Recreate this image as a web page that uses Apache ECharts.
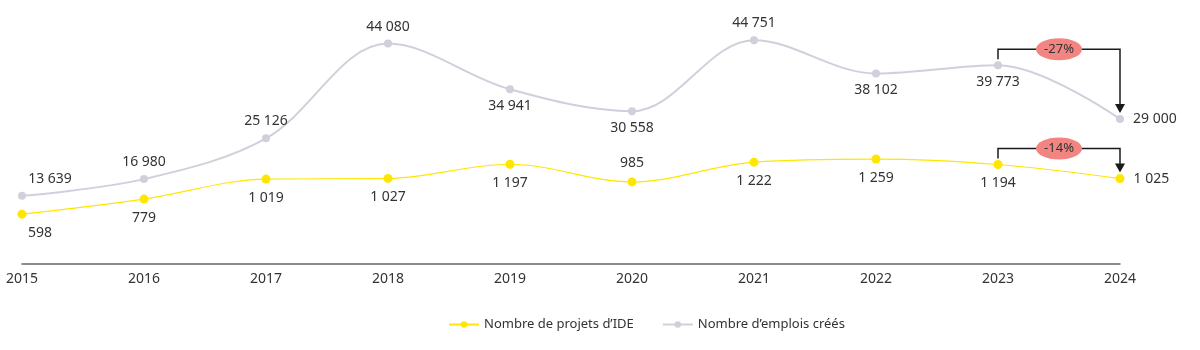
<!DOCTYPE html>
<html>
<head>
<meta charset="utf-8">
<script src="https://cdn.jsdelivr.net/npm/echarts@6/dist/echarts.min.js"></script>
<style>
  html, body { margin: 0; padding: 0; background: #fff; }
  #chart { width: 1200px; height: 350px; }
</style>
</head>
<body>
<div id="chart"></div>
<script>
// données
const years = ['2015', '2016', '2017', '2018', '2019', '2020', '2021', '2022', '2023', '2024'];
const projets = [598, 779, 1019, 1027, 1197, 985, 1222, 1259, 1194, 1025];
const emplois = [13639, 16980, 25126, 44080, 34941, 30558, 44751, 38102, 39773, 29000];
// position des étiquettes
const projetsPos = ['bottom', 'bottom', 'bottom', 'bottom', 'bottom', 'top', 'bottom', 'bottom', 'bottom', 'right'];
const emploisPos = ['top', 'top', 'top', 'top', 'bottom', 'bottom', 'top', 'bottom', 'bottom', 'right'];
const variations = ['-27%', '-14%'];

const fmt = (v) => String(v).replace(/\B(?=(\d{3})+(?!\d))/g, ' ');
const txt = '#333';
const font = 'Noto Sans';

function items(values, pos) {
  return values.map((v, i) => {
    const label = { position: pos[i] };
    if (i === 0) label.offset = pos[i] === 'top' ? [28, 0] : [18, 0];
    if (pos[i] === 'right') label.distance = 9;
    return { value: v, label };
  });
}

const chart = echarts.init(document.getElementById('chart'));
chart.setOption({
  animation: false,
  textStyle: { fontFamily: font },
  grid: { left: 22, right: 80, top: 14, bottom: 86 },
  legend: {
    bottom: 14,
    left: 443,
    itemWidth: 30,
    itemHeight: 8,
    itemGap: 28,
    textStyle: { color: txt, fontSize: 13, fontFamily: font },
    data: ['Nombre de projets d\u2019IDE', 'Nombre d\u2019emplois créés']
  },
  xAxis: {
    type: 'category',
    data: years,
    boundaryGap: false,
    axisLine: { lineStyle: { color: '#666', width: 1.5 } },
    axisTick: { show: false },
    axisLabel: { color: txt, fontSize: 14, margin: 8, fontFamily: font }
  },
  yAxis: [
    { type: 'value', min: 0, max: 3000, show: false, splitLine: { show: false } },
    { type: 'value', min: 0, max: 50000, show: false, splitLine: { show: false } }
  ],
  series: [
    {
      name: 'Nombre de projets d\u2019IDE',
      type: 'line',
      yAxisIndex: 0,
      smooth: 0.35,
      symbol: 'circle',
      symbolSize: 9,
      itemStyle: { color: '#ffe600' },
      lineStyle: { color: '#ffe600', width: 1.2 },
      label: { show: true, color: txt, fontSize: 14, distance: 7, fontFamily: font, formatter: (p) => fmt(p.value) },
      data: items(projets, projetsPos)
    },
    {
      name: 'Nombre d\u2019emplois créés',
      type: 'line',
      yAxisIndex: 1,
      smooth: 0.35,
      symbol: 'circle',
      symbolSize: 8,
      itemStyle: { color: '#d0d0dc' },
      lineStyle: { color: '#d0d0dc', width: 2 },
      label: { show: true, color: txt, fontSize: 14, distance: 6, fontFamily: font, formatter: (p) => fmt(p.value) },
      data: items(emplois, emploisPos)
    }
  ]
});

// flèches de variation 2023 -> 2024
function bracket(seriesIdx, values, text) {
  const n = values.length;
  const a = chart.convertToPixel({ seriesIndex: seriesIdx }, [n - 2, values[n - 2]]);
  const b = chart.convertToPixel({ seriesIndex: seriesIdx }, [n - 1, values[n - 1]]);
  const y = Math.min(a[1], b[1]) - 16;
  const mid = (a[0] + b[0]) / 2;
  return [
    {
      type: 'polyline',
      shape: { points: [[a[0], a[1] - 6], [a[0], y], [b[0], y], [b[0], b[1] - 14]] },
      style: { stroke: '#1a1a1a', lineWidth: 1.5, fill: null }
    },
    {
      type: 'polygon',
      shape: { points: [[b[0] - 5, b[1] - 15], [b[0] + 5, b[1] - 15], [b[0], b[1] - 6]] },
      style: { fill: '#1a1a1a' }
    },
    {
      type: 'ellipse',
      shape: { cx: mid, cy: y, rx: 23, ry: 11 },
      style: { fill: '#f28482' }
    },
    {
      type: 'text',
      x: mid, y: y,
      style: { text: text, fill: '#333', font: '13px "Noto Sans"', align: 'center', verticalAlign: 'middle' }
    }
  ];
}

chart.setOption({
  graphic: bracket(1, emplois, variations[0]).concat(bracket(0, projets, variations[1]))
});
</script>
</body>
</html>
